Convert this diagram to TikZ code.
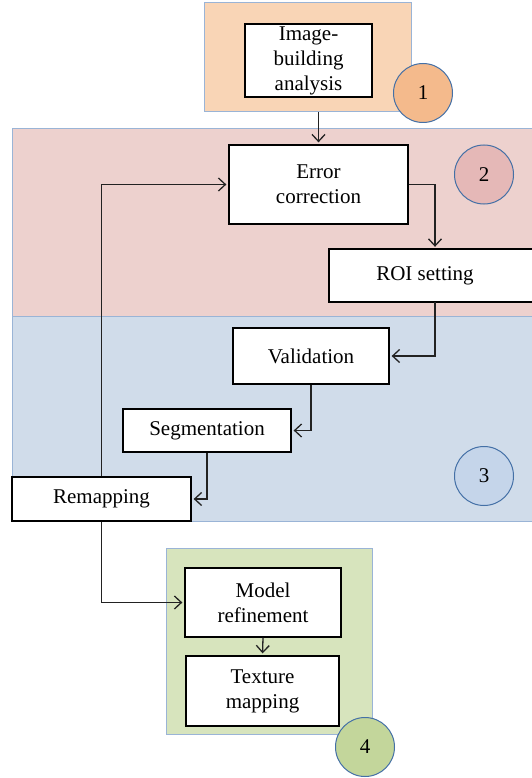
\documentclass[tikz,border=0pt]{standalone}
\usepackage{fontspec}
\setmainfont{Liberation Serif}
\usetikzlibrary{arrows.meta}
\definecolor{rOne}{HTML}{F9D5B6}
\definecolor{cOne}{HTML}{F4BA8C}
\definecolor{rTwo}{HTML}{EDD1CE}
\definecolor{cTwo}{HTML}{E5B8B7}
\definecolor{rThree}{HTML}{D0DCEA}
\definecolor{cThree}{HTML}{C5D5EA}
\definecolor{rFour}{HTML}{D7E4BD}
\definecolor{cFour}{HTML}{C3D69B}
\definecolor{regline}{HTML}{9AB4D6}
\definecolor{circline}{HTML}{4470A6}
\definecolor{connc}{HTML}{222222}
\tikzset{
  txt/.style={font=\rmfamily\fontsize{21}{25}\selectfont, align=center, inner sep=0pt},
  stepbox/.style={txt, draw=black, line width=1.3pt, fill=white},
  regbox/.style={draw=regline, line width=1pt},
  badge/.style={txt, circle, draw=circline, line width=1pt, minimum size=59pt},
  conn/.style={draw=connc, line width=1.3pt, -{Straight Barb[length=7pt,width=13pt,line width=1.3pt]}, shorten >=2pt},
}
\begin{document}
\begin{tikzpicture}[x=1pt,y=-1pt]
\useasboundingbox (0,0) rectangle (532,778);
\fill[white] (0,0) rectangle (532,778);
% regions
\node[regbox, fill=rOne, minimum width=207pt, minimum height=109pt, inner sep=0pt] (r1) at (307.5,57.5) {};
\fill[rTwo] (12,129) rectangle (545,316);
\fill[rThree] (12,316) rectangle (545,521);
\draw[regbox] (545,129) -- (12,129) -- (12,521) -- (545,521);
\draw[regbox] (12,316) -- (545,316);
\node[regbox, fill=rFour, minimum width=206pt, minimum height=186pt, inner sep=0pt] (r4) at (269,641) {};
% steps
\node[stepbox, minimum width=127pt, minimum height=73pt] (ib) at (308.5,60.5) {Image-\\building\\analysis};
\node[stepbox, minimum width=179pt, minimum height=79pt] (ec) at (318.5,184.5) {Error\\correction};
\draw[black, line width=1.3pt, fill=white] (329,249) rectangle (545,302);
\node[txt, minimum width=192pt, minimum height=53pt] (roi) at (425,275.5) {ROI setting};
\node[stepbox, minimum width=156pt, minimum height=56pt] (val) at (311,356) {Validation};
\node[stepbox, minimum width=168pt, minimum height=43pt] (seg) at (207,430.5) {Segmentation};
\node[stepbox, minimum width=179pt, minimum height=44pt] (remap) at (101.5,499) {Remapping};
\node[stepbox, minimum width=156pt, minimum height=69pt] (mr) at (263,602.5) {Model\\refinement};
\node[stepbox, minimum width=153pt, minimum height=70pt] (tm) at (262.5,691) {Texture\\mapping};
% badges
\node[badge, fill=cOne] (c1) at (423,93) {1};
\node[badge, fill=cTwo] (c2) at (484,174.5) {2};
\node[badge, fill=cThree] (c3) at (484,476) {3};
\node[badge, fill=cFour] (c4) at (365,747) {4};
% connectors
\draw[conn] (r1.south -| ec.north) -- (ec.north);
\draw[conn] (ec.east) -| ([xshift=10pt]roi.north);
\draw[conn] ([xshift=10pt]roi.south) |- (val.east);
\draw[conn] (val.south) |- (seg.east);
\draw[conn] (seg.south) |- (remap.east);
\draw[conn] (remap.north) |- (ec.west);
\draw[conn] (remap.south) |- (mr.west);
\draw[conn] (mr.south) -- (tm.north);
\end{tikzpicture}
\end{document}
